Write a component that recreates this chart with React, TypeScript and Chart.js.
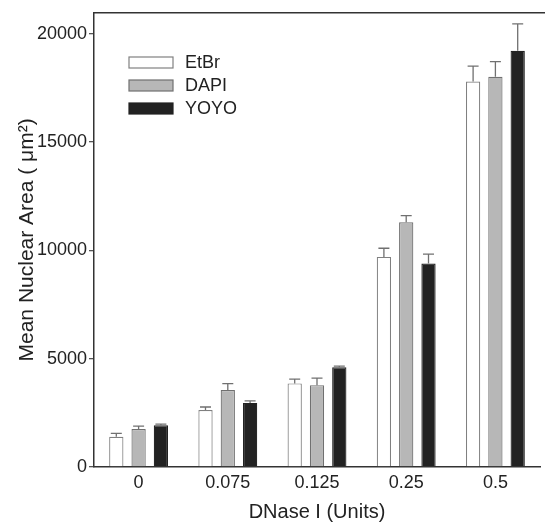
import React, { useEffect, useRef } from "react";
import { Chart, registerables } from "chart.js";

Chart.register(...registerables);

const categories = ["0", "0.075", "0.125", "0.25", "0.5"];
const seriesNames = ["EtBr", "DAPI", "YOYO"];
const etbrValues = [1400, 2630, 3860, 9700, 17800];
const dapiValues = [1750, 3550, 3780, 11300, 18020];
const yoyoValues = [1930, 2960, 4600, 9390, 19220];
const etbrErrors = [155, 140, 200, 400, 710];
const dapiErrors = [140, 300, 320, 310, 700];
const yoyoErrors = [50, 95, 60, 440, 1240];
const yTicks = [0, 5000, 10000, 15000, 20000];

const FONT = "'Liberation Sans', Arial, Helvetica, sans-serif";
const fills = ["#ffffff", "#b7b7b7", "#222222"];
const borders = ["#808080", "#707070", "#222222"];

const errorPlugin = {
  id: "errorBars",
  afterDatasetsDraw(chart: any) {
    const ctx = chart.ctx;
    const yScale = chart.scales.y;
    const errs = [etbrErrors, dapiErrors, yoyoErrors];
    const vals = [etbrValues, dapiValues, yoyoValues];
    ctx.save();
    ctx.strokeStyle = "#707070";
    ctx.lineWidth = 1.3;
    chart.data.datasets.forEach((_: any, i: number) => {
      const meta = chart.getDatasetMeta(i);
      meta.data.forEach((el: any, j: number) => {
        const x = el.x;
        const y0 = el.y;
        const y1 = yScale.getPixelForValue(vals[i][j] + errs[i][j]);
        ctx.beginPath();
        ctx.moveTo(x, y0);
        ctx.lineTo(x, y1);
        ctx.moveTo(x - 5.5, y1);
        ctx.lineTo(x + 5.5, y1);
        ctx.stroke();
      });
    });
    ctx.restore();
  },
};

const framePlugin = {
  id: "frameAndLegend",
  afterDraw(chart: any) {
    const ctx = chart.ctx;
    const area = chart.chartArea;
    ctx.save();
    // top frame line
    ctx.strokeStyle = "#333333";
    ctx.lineWidth = 1.5;
    ctx.beginPath();
    ctx.moveTo(area.left, area.top);
    ctx.lineTo(chart.width, area.top);
    ctx.stroke();
    // legend
    const boxX = 129;
    const boxW = 44;
    const boxH = 11;
    const tops = [57, 80, 103];
    ctx.font = `18px ${FONT}`;
    ctx.textBaseline = "middle";
    ctx.textAlign = "left";
    seriesNames.forEach((name, i) => {
      ctx.fillStyle = fills[i];
      ctx.fillRect(boxX, tops[i], boxW, boxH);
      ctx.strokeStyle = borders[i];
      ctx.lineWidth = 1.2;
      ctx.strokeRect(boxX, tops[i], boxW, boxH);
      ctx.fillStyle = "#222222";
      ctx.fillText(name, 185, tops[i] + boxH / 2 + 1);
    });
    ctx.restore();
  },
};

export default function App() {
  const canvasRef = useRef<HTMLCanvasElement | null>(null);

  useEffect(() => {
    document.body.style.margin = "0";
    const canvas = canvasRef.current;
    if (!canvas) return;
    const chart = new Chart(canvas, {
      type: "bar",
      data: {
        labels: categories,
        datasets: [
          { label: seriesNames[0], data: etbrValues },
          { label: seriesNames[1], data: dapiValues },
          { label: seriesNames[2], data: yoyoValues },
        ].map((d, i) => ({
          ...d,
          backgroundColor: fills[i],
          borderColor: borders[i],
          borderWidth: 1.2,
          categoryPercentage: 0.75,
          barPercentage: 0.64,
        })),
      },
      options: {
        animation: false,
        responsive: false,
        maintainAspectRatio: false,
        layout: { padding: { top: 12, right: 5, left: 0, bottom: 0 } },
        plugins: {
          legend: { display: false },
          tooltip: { enabled: false },
        },
        scales: {
          x: {
            type: "category",
            offset: true,
            grid: { display: false, drawTicks: false },
            border: { display: true, color: "#333333", width: 1.5 },
            ticks: {
              color: "#222222",
              font: { family: FONT, size: 18 },
              padding: 5,
              maxRotation: 0,
            },
            title: {
              display: true,
              text: "DNase I (Units)",
              color: "#222222",
              font: { family: FONT, size: 20, lineHeight: 1 },
              padding: { top: 0, bottom: 0 },
            },
            afterFit(scale: any) {
              scale.height = 55;
            },
          },
          y: {
            type: "linear",
            min: 0,
            max: 20970,
            afterBuildTicks(scale: any) {
              scale.ticks = yTicks.map((v) => ({ value: v }));
            },
            grid: {
              display: true,
              drawOnChartArea: false,
              drawTicks: true,
              tickLength: 5,
              color: "#555555",
              lineWidth: 1.3,
            },
            border: { display: true, color: "#333333", width: 1.5 },
            ticks: {
              color: "#222222",
              font: { family: FONT, size: 18 },
              padding: 2,
              callback: (v: any) => String(v),
            },
            title: {
              display: true,
              text: "Mean Nuclear Area ( μm²)",
              color: "#222222",
              font: { family: FONT, size: 21, lineHeight: 1 },
              padding: { top: 17, bottom: 0 },
            },
            afterFit(scale: any) {
              scale.width = 94;
            },
          },
        },
      },
      plugins: [errorPlugin, framePlugin],
    } as any);
    return () => chart.destroy();
  }, []);

  return (
    <div style={{ width: 545, height: 522, background: "#ffffff" }}>
      <canvas ref={canvasRef} width={545} height={522} style={{ display: "block", width: 545, height: 522 }} />
    </div>
  );
}
